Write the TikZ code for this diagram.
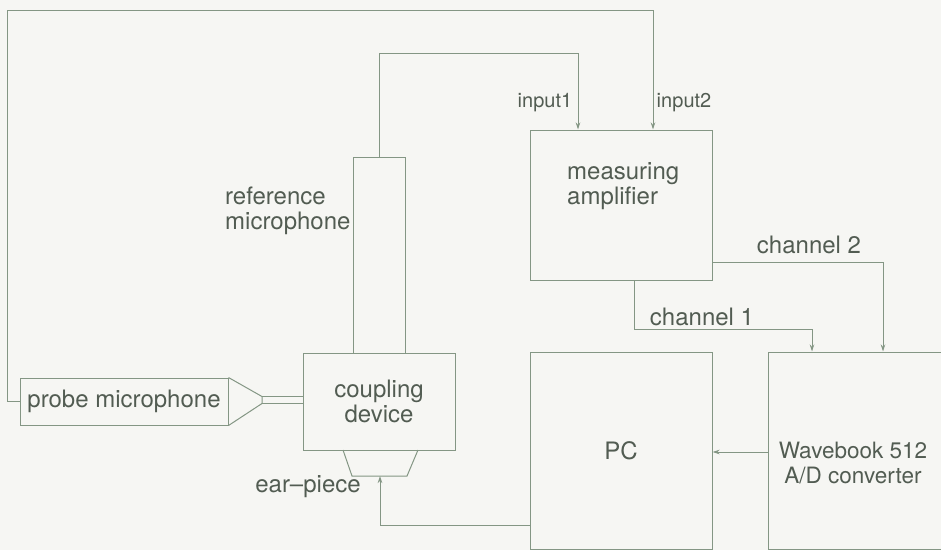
\documentclass[tikz,border=0pt]{standalone}
\usepackage{fontspec}
\setmainfont{TeX Gyre Heros}
\usetikzlibrary{positioning, arrows.meta}
\definecolor{wirecol}{RGB}{132,150,132}
\definecolor{ink}{RGB}{82,92,82}
\definecolor{paper}{RGB}{246,246,243}

\begin{document}
\begin{tikzpicture}[x=1pt, y=-1pt,
    box/.style={rectangle, draw=wirecol, line width=1pt, inner sep=0pt,
                font=\fontsize{24}{25}\selectfont, text=ink, align=center},
    lbl/.style={font=\fontsize{24}{25}\selectfont, text=ink, inner sep=0pt},
    tag/.style={font=\fontsize{20}{22}\selectfont, text=ink, inner sep=0pt},
    lead/.style={draw=wirecol, line width=1pt},
    sig/.style={lead, -{Stealth[length=7pt, width=4.5pt]}}
]
  \fill[paper] (0,0) rectangle (941,550);
  \useasboundingbox (0,0) rectangle (941,550);

  % Probe microphone
  \node[box, minimum width=208pt, minimum height=47pt] (probe) at (124,401.5) {probe microphone};
  \draw[lead] (probe.north east) -- (262,396.5) -- (262,403.5) -- (probe.south east);

  % Coupling device, reference microphone, ear-piece
  \node[box, minimum width=152pt, minimum height=97pt] (coupling) at (379,401.5) {coupling\\device};
  \node[box, minimum width=52pt, minimum height=196pt] (refmic) at (379,255) {};
  \draw[lead] (343,450) -- (352,476) -- (407,476) -- (418,450);
  \coordinate (ear) at (380,476);
  \draw[lead] (262,396.5) -- (coupling.west |- 0,396.5);
  \draw[lead] (262,403.5) -- (coupling.west |- 0,403.5);

  % Amplifier, PC, A/D converter
  \node[box, minimum width=182pt, minimum height=150pt] (amp) at (621,205) {};
  \node[box, minimum width=182pt, minimum height=197pt] (pc) at (621,450.5) {PC};
  \node[box, minimum width=182pt, minimum height=197pt] (wave) at (859,450.5) {};

  % Labels
  \node[lbl, align=left, anchor=west] (reflbl) at (225,211) {reference\\microphone};
  \node[lbl, align=left, anchor=west] (amplbl) at (567,186) {measuring\\amplifier};
  \node[lbl, align=center, font=\fontsize{22.5}{25}\selectfont] (wavelbl) at (853,463) {Wavebook 512\\A/D converter};
  \node[lbl] (earlbl) at (308,487) {ear–piece};
  \node[tag] (in1) at (545,103) {input1};
  \node[tag] (in2) at (684,103) {input2};
  \node[lbl] (ch2) at (809,245) {channel 2};
  \node[lbl] (ch1) at (702,317) {channel 1};

  % Connectors
  \draw[sig] (refmic.north) -- (379,53) -| ([xshift=-43pt]amp.north);
  \draw[sig] (probe.west) -- (7,401.5) -- (7,10) -| ([xshift=32pt]amp.north);
  \draw[sig] (amp.east |- 0,262) -| ([xshift=24pt]wave.north);
  \draw[sig] (amp.south -| 634,0) -- (634,329) -| ([xshift=-47pt]wave.north);
  \draw[sig] (wave.west |- 0,452) -- (pc.east |- 0,452);
  \draw[sig] (pc.west |- 0,525) -| (ear);
\end{tikzpicture}
\end{document}
